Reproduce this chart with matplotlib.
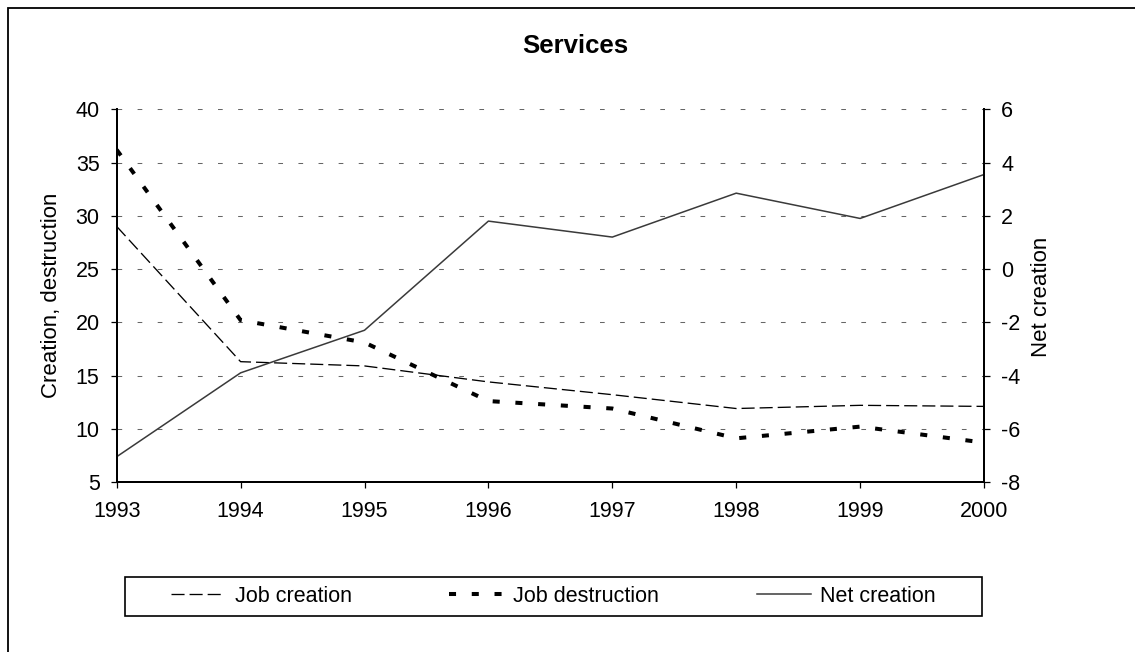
import matplotlib
matplotlib.use("Agg")
import matplotlib.pyplot as plt
from matplotlib.patches import Rectangle

plt.rcParams["font.family"] = ["Liberation Sans", "DejaVu Sans"]
plt.rcParams["axes.unicode_minus"] = False

# data
years = [1993, 1994, 1995, 1996, 1997, 1998, 1999, 2000]
job_creation = [29.0, 16.3, 15.9, 14.4, 13.2, 11.9, 12.2, 12.1]
job_destruction = [36.2, 20.2, 18.1, 12.6, 11.9, 9.1, 10.2, 8.7]
net_creation = [-7.05, -3.9, -2.3, 1.8, 1.2, 2.85, 1.9, 3.55]

left_ticks = [5, 10, 15, 20, 25, 30, 35, 40]
right_ticks = [-8, -6, -4, -2, 0, 2, 4, 6]

W, H = 1135, 652
FS = 15.5

fig = plt.figure(figsize=(W / 100, H / 100), dpi=100)
ax = fig.add_axes([116.7 / W, 1 - 482 / H, (984 - 116.7) / W, (482 - 109.3) / H])
ax2 = ax.twinx()

# left axis: creation / destruction
l1, = ax.plot(years, job_creation, color="black", lw=0.95,
              dashes=(9.9, 3.8), dash_capstyle="butt", label="Job creation")
l2, = ax.plot(years, job_destruction, color="black", lw=2.9,
              dashes=(1.75, 3.9), dash_capstyle="butt", label="Job destruction")
ax.set_xlim(1993, 2000)
ax.set_ylim(5, 40)
ax.set_xticks(years)
ax.set_yticks(left_ticks)
ax.grid(axis="y", color="#666666", lw=0.75, linestyle=(0, (4.5, 14.8)))
ax.set_axisbelow(True)

# right axis: net creation
l3, = ax2.plot(years, net_creation, color="#3a3a3a", lw=1.1, label="Net creation")
ax2.set_ylim(-8, 6)
ax2.set_yticks(right_ticks)

for a in (ax, ax2):
    a.spines["top"].set_visible(False)
    for s in ("left", "right", "bottom"):
        a.spines[s].set_linewidth(1.4)
        a.spines[s].set_color("black")
    a.tick_params(direction="out", length=4.3, width=0.9, labelsize=FS, pad=8)
ax.tick_params(axis="x", pad=9.5)

fig.text(51.7 / W, 1 - 295.5 / H, "Creation, destruction", rotation=90,
         ha="center", va="center", fontsize=16)
fig.text(1041.7 / W, 1 - 296.7 / H, "Net creation", rotation=90,
         ha="center", va="center", fontsize=16)
fig.text(575 / W, 1 - 53.3 / H, "Services", ha="center", va="baseline",
         fontsize=18.5, fontweight="bold")

# legend box and entries
fig.add_artist(Rectangle((125 / W, 1 - 616 / H), (982 - 125) / W, (616 - 577) / H,
                         transform=fig.transFigure, fill=False, lw=1.2,
                         edgecolor="black"))
fig.legend(handles=[l1, l2, l3], loc="center", ncol=3, frameon=False,
           bbox_to_anchor=(553.5 / W, 1 - 596.5 / H), fontsize=FS,
           handlelength=2.5, handletextpad=0.45, columnspacing=4.55)

# outer frame of the chart
fig.add_artist(Rectangle((8 / W, -0.2), 1.5, 0.2 + (1 - 8 / H),
                         transform=fig.transFigure, fill=False, lw=1.3,
                         edgecolor="black"))

fig.savefig("out.png", dpi=100)
